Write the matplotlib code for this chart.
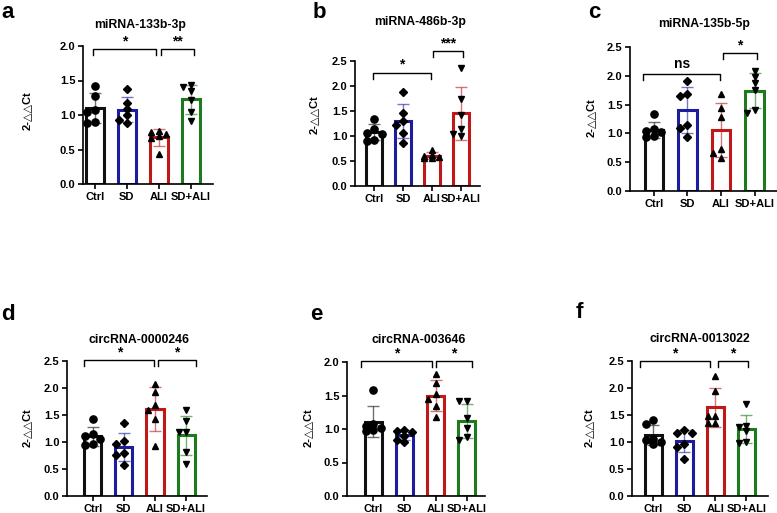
import numpy as np
import matplotlib.pyplot as plt

plt.rcParams['font.family'] = ['Liberation Sans', 'DejaVu Sans']
plt.rcParams['font.weight'] = 'bold'

groups = ['Ctrl', 'SD', 'ALI', 'SD+ALI']
ylab = '2-\u25b3\u25b3Ct'

# a
a_title = 'miRNA-133b-3p'
a_ctrl = [1.42, 1.28, 1.07, 1.05, 0.90, 0.88]
a_sd = [1.37, 1.18, 1.08, 1.00, 0.93, 0.88]
a_ali = [0.77, 0.76, 0.72, 0.70, 0.66, 0.44]
a_sdali = [1.43, 1.41, 1.35, 1.22, 1.04, 0.91]
a_sig = ['*', '**']

# b
b_title = 'miRNA-486b-3p'
b_ctrl = [1.35, 1.15, 1.07, 1.05, 0.92, 0.91]
b_sd = [1.88, 1.46, 1.31, 1.22, 1.06, 0.87]
b_ali = [0.73, 0.62, 0.60, 0.58, 0.57, 0.56]
b_sdali = [2.37, 1.75, 1.42, 1.15, 1.05, 1.00]
b_sig = ['*', '***']

# c
c_title = 'miRNA-135b-5p'
c_ctrl = [1.33, 1.08, 1.05, 1.02, 0.96, 0.93]
c_sd = [1.91, 1.69, 1.65, 1.14, 1.09, 0.93]
c_ali = [1.68, 1.44, 1.28, 0.73, 0.66, 0.58]
c_sdali = [2.08, 1.98, 1.88, 1.75, 1.41, 1.35]
c_sig = ['ns', '*']

# d
d_title = 'circRNA-0000246'
d_ctrl = [1.42, 1.14, 1.12, 1.05, 0.96, 0.95]
d_sd = [1.35, 1.01, 0.96, 0.80, 0.76, 0.57]
d_ali = [2.07, 1.93, 1.68, 1.60, 1.42, 0.93]
d_sdali = [1.59, 1.39, 1.18, 1.18, 0.81, 0.60]
d_sig = ['*', '*']

# e
e_title = 'circRNA-003646'
e_ctrl = [1.58, 1.07, 1.04, 1.01, 0.99, 0.97]
e_sd = [0.98, 0.97, 0.96, 0.89, 0.84, 0.80]
e_ali = [1.82, 1.68, 1.52, 1.45, 1.35, 1.18]
e_sdali = [1.42, 1.42, 1.16, 1.01, 0.88, 0.83]
e_sig = ['*', '*']

# f
f_title = 'circRNA-0013022'
f_ctrl = [1.40, 1.34, 1.05, 1.03, 1.00, 0.96]
f_sd = [1.23, 1.16, 1.16, 0.97, 0.91, 0.69]
f_ali = [2.22, 1.94, 1.49, 1.49, 1.35, 1.35]
f_sdali = [1.70, 1.30, 1.28, 1.20, 1.00, 0.98]
f_sig = ['*', '*']

BLACK = '#111111'
BLUE = '#1c1c9c'
RED = '#c01818'
GREEN = '#1d7a1d'
markers = ['o', 'D', '^', 'v']
msizes = [5.2, 4.2, 5.0, 5.0]

W, H = 777, 513

# layout, in pixels of the 777x513 picture
# letter, spine x, axis right x, top y, bottom y, ymax, xlim, bracket ends/heights, title xy, ylabel xy, letter xy
panels = [
    ('a', a_title, [a_ctrl, a_sd, a_ali, a_sdali], a_sig, [BLACK, BLUE, RED, GREEN],
     (83, 213, 46, 184), 2.0, (-0.375, 3.69),
     [(-0.06, 1.91, 1.96), (2.06, 3.09, 1.96)], (140, 25), (27, 111), (1, 18)),
    ('b', b_title, [b_ctrl, b_sd, b_ali, b_sdali], b_sig, [BLACK, BLUE, RED, RED],
     (355, 480, 61, 186), 2.5, (-0.66, 3.66),
     [(-0.04, 1.96, 2.27), (2.03, 3.07, 2.70)], (420, 22), (314, 115), (313, 18)),
    ('c', c_title, [c_ctrl, c_sd, c_ali, c_sdali], c_sig, [BLACK, BLUE, RED, GREEN],
     (630, 778, 47, 191), 2.5, (-0.71, 3.7),
     [(-0.32, 1.98, 2.03), (2.06, 3.07, 2.39)], (704, 24), (591, 118), (588, 18)),
    ('d', d_title, [d_ctrl, d_sd, d_ali, d_sdali], d_sig, [BLACK, BLUE, RED, GREEN],
     (67, 207, 361, 496), 2.5, (-0.83, 3.67),
     [(-0.27, 1.97, 2.52), (2.08, 3.32, 2.52)], (139, 340), (27, 428), (1, 320)),
    ('e', e_title, [e_ctrl, e_sd, e_ali, e_sdali], e_sig, [BLACK, BLUE, RED, GREEN],
     (347, 485, 362, 496), 2.0, (-0.84, 3.58),
     [(-0.39, 1.89, 2.01), (2.0, 3.17, 2.01)], (419, 340), (308, 428), (310, 320)),
    ('f', f_title, [f_ctrl, f_sd, f_ali, f_sdali], f_sig, [BLACK, BLUE, RED, GREEN],
     (632, 768, 361, 496), 2.5, (-0.69, 3.70),
     [(-0.43, 1.82, 2.50), (2.09, 3.05, 2.50)], (700, 339), (589, 428), (576, 318)),
]


def swarm(vals, ppx, ppy, step=7.5, gap=5.0):
    # spread points sideways when they would overlap, but stay inside the bar
    vals = np.asarray(vals)
    xs = np.zeros(len(vals))
    placed = []
    for i in np.argsort(vals)[::-1]:
        yp = vals[i] * ppy
        best, best_d = 0.0, -1
        for c in [0, -1, 1]:
            xp = c * step
            d = min([np.hypot(xp - qx, yp - qy) for qx, qy in placed] + [99])
            if d >= gap:
                best = xp
                break
            if d > best_d:
                best, best_d = xp, d
        placed.append((best, yp))
        xs[i] = best / ppx
    return xs


fig = plt.figure(figsize=(W / 100, H / 100), dpi=100)

for (letter, title, data, sig, cols, box, ymax, xl, brs, tpos, lpos, kpos) in panels:
    x0, x1, y0, y1 = box
    ax = fig.add_axes([x0 / W, 1 - y1 / H, (x1 - x0) / W, (y1 - y0) / H])
    ax.set_xlim(*xl)
    ax.set_ylim(0, ymax)
    ppx = (x1 - x0) / (xl[1] - xl[0])
    ppy = (y1 - y0) / ymax

    means = [np.mean(v) for v in data]
    sds = [np.std(v, ddof=1) for v in data]
    xpos = np.arange(len(groups))
    ax.bar(xpos, means, width=0.55, facecolor='white', edgecolor=cols,
           linewidth=2.2, zorder=2)
    for i in range(len(groups)):
        ax.errorbar(i, means[i], yerr=sds[i], color=cols[i], alpha=0.6,
                    capsize=4, elinewidth=1, capthick=1, zorder=3)
        jit = swarm(data[i], ppx, ppy)
        ax.plot(i + jit, data[i], linestyle='', marker=markers[i],
                markersize=msizes[i], color='black', zorder=4, clip_on=False)

    ax.spines['top'].set_visible(False)
    ax.spines['right'].set_visible(False)
    ax.spines['left'].set_linewidth(1.2)
    ax.spines['bottom'].set_linewidth(1.2)
    ax.set_yticks(np.arange(0, ymax + 0.01, 0.5))
    ax.set_yticklabels(['%.1f' % t for t in np.arange(0, ymax + 0.01, 0.5)])
    ax.set_xticks(xpos)
    ax.set_xticklabels(groups)
    ax.tick_params(axis='both', labelsize=8, width=1.2, length=3.5, pad=2)

    # significance brackets
    leg = 6 * ymax / (y1 - y0)
    for (bx1, bx2, by), lab in zip(brs, sig):
        ax.plot([bx1, bx1, bx2, bx2], [by - leg, by, by, by - leg],
                color='black', linewidth=1, clip_on=False)
        off = 7.5 if lab == 'ns' else 5.5
        ax.annotate(lab, xy=((bx1 + bx2) / 2, by), xytext=(0, off),
                    textcoords='offset points', ha='center', va='center',
                    fontsize=10, annotation_clip=False)

    fig.text(tpos[0] / W, 1 - tpos[1] / H, title, ha='center', va='center',
             fontsize=8.8)
    fig.text(lpos[0] / W, 1 - lpos[1] / H, ylab, ha='center', va='center',
             rotation=90, fontsize=8)
    fig.text(kpos[0] / W, 1 - kpos[1] / H, letter, ha='left', va='baseline',
             fontsize=16)

plt.savefig('out.png', dpi=100)
